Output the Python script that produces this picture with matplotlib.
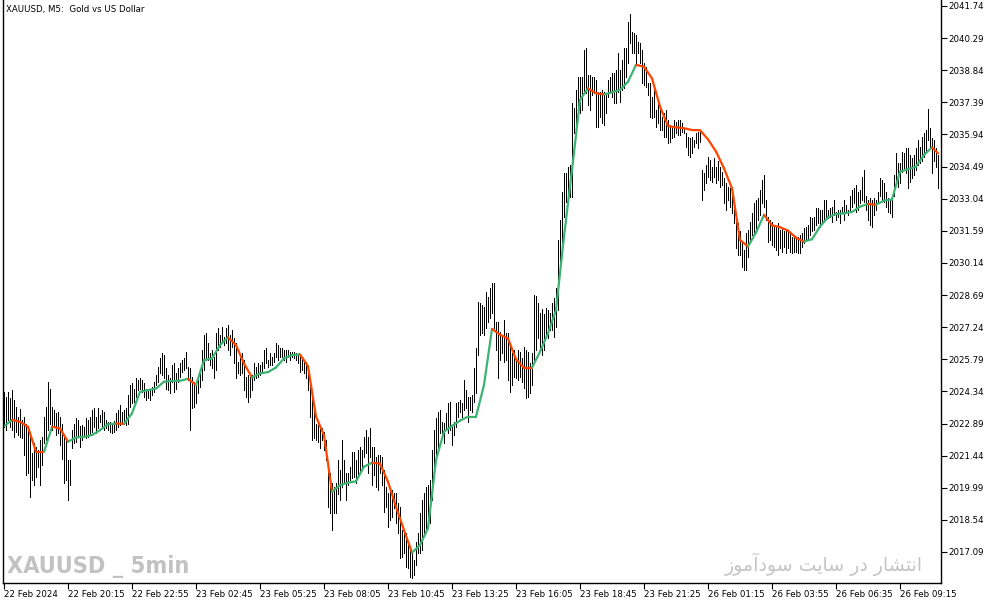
import matplotlib
matplotlib.use("Agg")
import matplotlib.pyplot as plt
import numpy as np
from matplotlib.collections import LineCollection

# XAUUSD M5 bars, 22 Feb 2024 17:35 .. 26 Feb 2024 10:50
highs = [
    2024.32, 2024.10, 2024.32, 2024.02, 2024.40, 2023.95, 2023.65, 2023.20, 2023.53, 2023.05,
    2023.20, 2022.89, 2022.74, 2022.44, 2021.54, 2021.99, 2021.84, 2021.69, 2022.14, 2022.29,
    2023.20, 2023.65, 2024.78, 2024.47, 2023.65, 2023.50, 2023.35, 2023.42, 2023.20, 2022.89,
    2022.29, 2022.22, 2021.24, 2021.24, 2022.59, 2022.89, 2023.12, 2023.05, 2022.77, 2022.82,
    2022.74, 2023.12, 2023.07, 2023.20, 2023.50, 2023.57, 2023.20, 2023.57, 2023.27, 2023.50,
    2023.42, 2023.05, 2022.97, 2022.97, 2022.89, 2023.01, 2023.35, 2023.50, 2023.72, 2023.42,
    2023.50, 2023.57, 2024.17, 2024.63, 2024.70, 2024.47, 2024.93, 2024.85, 2024.93, 2024.85,
    2024.70, 2024.47, 2024.40, 2024.47, 2024.55, 2024.78, 2025.08, 2025.45, 2025.83, 2026.06,
    2025.98, 2025.38, 2025.08, 2024.93, 2025.53, 2025.60, 2025.15, 2025.38, 2025.60, 2025.75,
    2025.83, 2026.13, 2025.45, 2025.38, 2025.00, 2024.78, 2024.70, 2024.85, 2025.15, 2026.21,
    2026.88, 2026.96, 2026.51, 2026.06, 2026.21, 2025.90, 2026.96, 2027.18, 2026.88, 2027.26,
    2026.81, 2027.18, 2027.33, 2026.88, 2027.11, 2026.73, 2026.51, 2025.68, 2025.83, 2026.06,
    2025.75, 2025.00, 2025.08, 2025.00, 2025.08, 2025.60, 2025.45, 2025.60, 2025.53, 2025.68,
    2026.21, 2026.28, 2025.75, 2026.06, 2025.90, 2026.06, 2026.51, 2026.43, 2026.28, 2026.28,
    2026.21, 2026.21, 2026.21, 2026.13, 2026.13, 2026.13, 2026.06, 2025.98, 2025.90, 2025.90,
    2025.75, 2025.68, 2025.30, 2024.93, 2024.25, 2023.65, 2022.89, 2022.82, 2022.74, 2022.67,
    2022.52, 2022.14, 2021.09, 2020.64, 2020.19, 2020.04, 2020.19, 2021.24, 2020.79, 2022.14,
    2021.24, 2020.64, 2020.64, 2020.94, 2021.61, 2021.61, 2021.24, 2021.69, 2021.84, 2021.69,
    2022.29, 2022.59, 2022.29, 2022.67, 2021.84, 2021.84, 2021.39, 2021.47, 2021.47, 2021.39,
    2020.79, 2020.04, 2019.74, 2019.89, 2019.89, 2019.74, 2019.74, 2019.28, 2019.13, 2018.08,
    2017.93, 2017.93, 2017.48, 2017.33, 2017.03, 2016.73, 2017.55, 2017.93, 2018.83, 2019.43,
    2019.74, 2020.04, 2020.11, 2020.34, 2021.69, 2022.60, 2023.12, 2023.42, 2023.50, 2022.97,
    2022.90, 2023.35, 2023.80, 2023.87, 2022.75, 2022.97, 2023.80, 2023.87, 2023.95, 2023.80,
    2024.85, 2024.40, 2024.10, 2024.10, 2024.18, 2025.38, 2026.28, 2028.39, 2028.32, 2028.24,
    2028.16, 2028.84, 2028.62, 2028.99, 2029.22, 2029.22, 2027.49, 2027.49, 2027.04, 2026.81,
    2027.56, 2026.96, 2026.96, 2026.51, 2026.06, 2026.21, 2025.83, 2026.21, 2026.13, 2025.83,
    2026.36, 2026.21, 2026.13, 2025.61, 2026.06, 2028.69, 2028.65, 2028.32, 2027.90, 2028.05,
    2027.82, 2028.09, 2028.01, 2027.86, 2028.32, 2028.54, 2028.99, 2031.18, 2032.08, 2033.36,
    2034.19, 2034.19, 2034.49, 2034.56, 2037.35, 2037.12, 2037.95, 2038.55, 2038.55, 2038.55,
    2039.75, 2039.83, 2038.63, 2038.63, 2038.55, 2038.55, 2038.40, 2037.87, 2037.87, 2037.95,
    2037.87, 2037.72, 2038.40, 2038.55, 2038.70, 2038.70, 2038.85, 2039.60, 2038.85, 2039.30,
    2039.83, 2039.83, 2041.03, 2041.38, 2040.58, 2040.51, 2040.43, 2040.13, 2040.06, 2039.75,
    2039.15, 2039.00, 2038.25, 2038.25, 2037.65, 2038.10, 2037.05, 2037.35, 2037.20, 2036.74,
    2036.89, 2037.05, 2036.59, 2036.37, 2036.22, 2036.59, 2036.52, 2036.59, 2036.59, 2036.44,
    2036.22, 2035.99, 2035.84, 2035.77, 2035.84, 2035.69, 2035.99, 2036.07, 2036.14, 2034.34,
    2034.19, 2034.57, 2034.94, 2034.79, 2034.49, 2034.87, 2034.49, 2034.72, 2034.49, 2034.26,
    2033.96, 2033.74, 2033.59, 2033.51, 2033.29, 2032.91, 2032.23, 2031.93, 2031.56, 2031.03,
    2030.73, 2031.48, 2031.63, 2032.01, 2032.38, 2032.83, 2032.99, 2033.06, 2033.44, 2033.89,
    2034.11, 2032.99, 2032.23, 2032.08, 2032.01, 2031.86, 2031.78, 2031.93, 2031.63, 2031.71,
    2031.56, 2031.63, 2031.63, 2031.48, 2031.33, 2031.40, 2031.33, 2031.33, 2031.40, 2031.48,
    2031.71, 2031.78, 2031.86, 2032.23, 2032.16, 2032.23, 2032.61, 2032.61, 2032.53, 2032.53,
    2032.99, 2032.99, 2032.53, 2032.61, 2032.68, 2032.99, 2032.46, 2032.53, 2032.53, 2032.68,
    2032.99, 2032.76, 2032.53, 2033.14, 2033.44, 2033.51, 2033.66, 2033.36, 2033.44, 2034.04,
    2034.34, 2033.14, 2032.99, 2033.06, 2032.99, 2033.06, 2032.99, 2033.36, 2033.96, 2033.89,
    2033.74, 2033.36, 2033.06, 2032.99, 2033.06, 2034.11, 2035.09, 2034.64, 2034.64, 2035.17,
    2035.09, 2035.32, 2035.32, 2035.02, 2034.87, 2035.02, 2035.32, 2035.69, 2035.39, 2035.84,
    2035.99, 2036.15, 2037.08, 2036.22, 2035.77, 2035.69, 2035.32, 2035.02,
]

lows = [
    2022.74, 2022.59, 2023.05, 2022.74, 2022.59, 2022.29, 2022.52, 2022.37, 2022.29, 2022.22,
    2021.46, 2020.56, 2020.64, 2019.58, 2020.34, 2020.11, 2020.49, 2020.94, 2020.11, 2021.01,
    2021.99, 2022.14, 2022.59, 2022.89, 2022.59, 2022.74, 2022.37, 2022.44, 2021.92, 2021.31,
    2020.19, 2020.34, 2019.43, 2020.11, 2021.77, 2021.99, 2022.07, 2022.29, 2021.81, 2022.14,
    2022.29, 2022.22, 2022.29, 2022.37, 2022.52, 2022.74, 2022.44, 2022.67, 2022.97, 2022.67,
    2022.59, 2022.67, 2022.59, 2022.52, 2022.44, 2022.52, 2022.59, 2022.74, 2022.82, 2022.89,
    2022.89, 2022.82, 2022.89, 2023.65, 2023.80, 2023.87, 2024.10, 2024.40, 2024.47, 2024.32,
    2024.10, 2023.95, 2024.02, 2023.95, 2024.17, 2024.32, 2024.63, 2024.78, 2025.15, 2025.08,
    2024.93, 2024.47, 2024.40, 2024.25, 2024.78, 2024.32, 2024.47, 2024.78, 2025.00, 2025.23,
    2025.30, 2025.38, 2024.85, 2022.59, 2023.57, 2023.65, 2023.80, 2024.25, 2024.55, 2024.85,
    2025.30, 2025.75, 2025.75, 2025.53, 2025.38, 2024.93, 2025.30, 2026.21, 2026.36, 2026.58,
    2026.43, 2026.51, 2026.21, 2025.98, 2026.36, 2025.60, 2024.93, 2025.15, 2025.08, 2025.15,
    2024.40, 2024.10, 2023.87, 2024.10, 2024.40, 2024.85, 2024.93, 2025.00, 2025.08, 2025.15,
    2025.38, 2025.60, 2025.45, 2025.53, 2025.53, 2025.68, 2025.90, 2025.75, 2025.90, 2025.90,
    2025.75, 2025.68, 2025.90, 2025.75, 2025.90, 2025.83, 2025.75, 2025.60, 2025.23, 2025.30,
    2025.15, 2024.93, 2024.40, 2023.20, 2022.14, 2022.22, 2022.14, 2022.07, 2021.77, 2022.14,
    2021.69, 2021.24, 2019.13, 2018.83, 2018.08, 2018.83, 2018.83, 2019.73, 2019.43, 2020.04,
    2020.19, 2019.43, 2020.11, 2020.34, 2020.41, 2020.49, 2020.19, 2020.49, 2020.64, 2020.79,
    2021.39, 2021.54, 2020.64, 2021.39, 2020.11, 2020.56, 2020.04, 2019.89, 2020.64, 2020.11,
    2018.91, 2019.13, 2018.23, 2018.53, 2018.68, 2019.06, 2018.38, 2017.93, 2016.80, 2016.88,
    2017.03, 2016.43, 2016.35, 2015.97, 2015.90, 2016.05, 2016.50, 2017.03, 2017.03, 2017.18,
    2017.93, 2018.08, 2018.53, 2018.38, 2019.43, 2020.64, 2021.39, 2021.54, 2022.45, 2022.45,
    2021.99, 2022.67, 2022.45, 2022.60, 2021.92, 2022.37, 2022.75, 2023.20, 2023.42, 2023.20,
    2023.50, 2023.57, 2022.97, 2023.50, 2023.42, 2023.87, 2024.25, 2025.98, 2026.89, 2026.96,
    2026.89, 2027.19, 2027.49, 2027.64, 2027.86, 2027.19, 2026.21, 2024.93, 2025.76, 2026.06,
    2025.68, 2025.76, 2024.85, 2024.33, 2024.63, 2025.00, 2024.93, 2024.85, 2025.00, 2024.78,
    2024.48, 2024.03, 2024.10, 2024.25, 2024.63, 2025.61, 2026.20, 2026.74, 2026.30, 2026.00,
    2026.20, 2026.89, 2026.74, 2027.11, 2027.11, 2026.81, 2027.26, 2028.02, 2029.82, 2031.03,
    2032.23, 2032.91, 2032.98, 2033.13, 2033.13, 2035.99, 2036.29, 2036.74, 2036.89, 2037.05,
    2037.80, 2037.80, 2037.27, 2037.05, 2037.72, 2037.80, 2036.29, 2036.29, 2036.74, 2036.44,
    2036.37, 2036.89, 2037.65, 2037.80, 2037.65, 2037.35, 2037.35, 2037.87, 2037.42, 2037.95,
    2038.02, 2038.55, 2039.15, 2040.06, 2039.60, 2039.60, 2039.15, 2039.60, 2039.15, 2038.25,
    2038.17, 2038.10, 2037.72, 2036.74, 2036.67, 2036.74, 2036.29, 2036.44, 2036.14, 2036.14,
    2035.84, 2035.84, 2035.54, 2035.62, 2035.77, 2035.84, 2035.99, 2035.92, 2035.92, 2036.07,
    2035.99, 2035.39, 2035.01, 2034.94, 2035.09, 2035.39, 2035.54, 2035.31, 2035.62, 2032.99,
    2033.44, 2033.74, 2034.04, 2033.89, 2033.81, 2034.04, 2033.74, 2033.89, 2033.59, 2033.66,
    2032.83, 2032.53, 2032.99, 2032.68, 2032.38, 2031.93, 2030.80, 2030.50, 2030.50, 2029.97,
    2029.82, 2029.82, 2030.43, 2031.18, 2031.40, 2031.48, 2031.56, 2032.08, 2032.31, 2032.83,
    2032.68, 2032.08, 2031.10, 2031.18, 2030.95, 2030.88, 2030.73, 2030.50, 2030.80, 2030.65,
    2030.88, 2030.58, 2030.80, 2030.65, 2030.58, 2030.65, 2030.65, 2030.58, 2030.58, 2030.88,
    2031.03, 2031.18, 2031.18, 2031.40, 2031.56, 2031.63, 2031.86, 2031.93, 2031.78, 2032.01,
    2032.08, 2032.16, 2032.16, 2032.23, 2032.01, 2032.31, 2032.08, 2032.23, 2031.93, 2032.38,
    2032.08, 2032.38, 2032.31, 2032.46, 2032.68, 2032.83, 2032.46, 2032.53, 2032.83, 2032.99,
    2032.91, 2032.53, 2032.08, 2031.86, 2031.78, 2032.31, 2032.53, 2032.83, 2033.14, 2032.99,
    2032.91, 2032.68, 2032.46, 2032.38, 2032.23, 2033.14, 2033.74, 2033.59, 2033.74, 2034.26,
    2034.41, 2034.19, 2033.51, 2033.81, 2033.96, 2034.11, 2034.34, 2034.57, 2034.64, 2034.72,
    2034.94, 2035.09, 2035.69, 2035.39, 2034.19, 2034.72, 2034.49, 2033.51,
]

# moving average, read every 4th bar, plus the last bar
ma_bars = list(range(0, 465, 4)) + [467]
ma_values = [
    2022.77, 2023.05, 2022.97, 2022.74, 2021.61, 2021.61, 2022.74, 2022.67, 2022.07, 2022.26,
    2022.29, 2022.37, 2022.59, 2022.86, 2022.89, 2022.88, 2023.35, 2024.32, 2024.40, 2024.47,
    2024.78, 2024.81, 2024.82, 2024.91, 2024.63, 2025.75, 2025.83, 2026.43, 2026.78, 2026.43,
    2025.60, 2024.97, 2025.15, 2025.21, 2025.42, 2025.83, 2025.98, 2026.01, 2025.48, 2023.20,
    2022.37, 2019.81, 2020.11, 2020.22, 2020.28, 2020.94, 2021.12, 2021.08, 2020.26, 2019.13,
    2018.08, 2017.06, 2017.40, 2018.16, 2021.24, 2022.52, 2022.78, 2023.02, 2023.20, 2023.20,
    2024.63, 2027.16, 2026.90, 2026.73, 2025.79, 2025.41, 2025.41, 2026.13, 2026.96, 2028.01,
    2031.33, 2034.34, 2037.50, 2038.02, 2037.80, 2037.75, 2037.84, 2037.95, 2038.32, 2039.08,
    2039.00, 2038.47, 2037.20, 2036.32, 2036.26, 2036.22, 2036.14, 2036.13, 2035.72, 2035.17,
    2034.41, 2033.51, 2031.18, 2030.88, 2031.51, 2032.31, 2031.84, 2031.75, 2031.60, 2031.28,
    2031.10, 2031.21, 2031.78, 2032.20, 2032.35, 2032.38, 2032.44, 2032.68, 2032.80, 2032.77,
    2032.95, 2033.01, 2034.26, 2034.37, 2034.49, 2035.02, 2035.36, 2035.09,
]

price_ticks = [2017.09, 2018.54, 2019.99, 2021.44, 2022.89, 2024.34, 2025.79, 2027.24,
               2028.69, 2030.14, 2031.59, 2033.04, 2034.49, 2035.94, 2037.39, 2038.84,
               2040.29, 2041.74]
time_tick_bars = list(range(0, 449, 32))
time_labels = ["22 Feb 2024", "22 Feb 20:15", "22 Feb 22:55", "23 Feb 02:45",
               "23 Feb 05:25", "23 Feb 08:05", "23 Feb 10:45", "23 Feb 13:25",
               "23 Feb 16:05", "23 Feb 18:45", "23 Feb 21:25", "26 Feb 01:15",
               "26 Feb 03:55", "26 Feb 06:35", "26 Feb 09:15"]

UP = "#3cb371"
DOWN = "#ff4500"
FS = 6.2

# "انتشار در سایت سودآموز" in joined presentation forms, visual order
persian_note = ("\ufeaf\ufeee\ufee3\ufe81\ufea9\ufeee\ufeb3 "
                "\ufe96\ufef3\ufe8e\ufeb3 "
                "\ufead\ufea9 "
                "\ufead\ufe8e\ufeb8\ufe98\ufee7\ufe8d")


def draw_bars(ax):
    x = np.arange(len(highs))
    ax.vlines(x, lows, highs, colors="black", linewidth=0.55,
              antialiased=False, snap=True)


def draw_ma(ax):
    pts = np.column_stack([ma_bars, ma_values])
    segs = np.stack([pts[:-1], pts[1:]], axis=1)
    diffs = np.diff(ma_values)
    colors = []
    last = UP
    for d in diffs:
        if d > 0:
            last = UP
        elif d < 0:
            last = DOWN
        colors.append(last)
    lc = LineCollection(segs, colors=colors, linewidths=1.6, capstyle="round")
    ax.add_collection(lc)


def decorate(ax):
    ax.set_xlim(-0.75, 468.5)
    ax.set_ylim(2015.69, 2042.01)

    ax.spines["top"].set_visible(False)
    for s in ["left", "bottom", "right"]:
        ax.spines[s].set_linewidth(1.0)
        ax.spines[s].set_color("black")

    ax.yaxis.tick_right()
    ax.set_yticks(price_ticks)
    ax.set_yticklabels(["%.2f" % v for v in price_ticks])
    ax.tick_params(axis="y", direction="out", length=4, width=0.8, pad=1,
                   labelsize=FS, colors="black")

    ax.set_xticks(time_tick_bars)
    ax.set_xticklabels(time_labels, ha="left")
    ax.tick_params(axis="x", direction="out", length=4, width=0.8, pad=1,
                   labelsize=FS, colors="black")

    ax.text(0.004, 0.992, "XAUUSD, M5:  Gold vs US Dollar", transform=ax.transAxes,
            ha="left", va="top", fontsize=FS, color="black")

    ax.text(0.005, 0.009, "XAUUSD _ 5min", transform=ax.transAxes, ha="left",
            va="bottom", fontsize=16.8, fontweight="bold", color="#c2c2c2",
            family=["Liberation Sans Narrow", "DejaVu Sans"], fontstretch="condensed")
    ax.text(0.981, 0.012, persian_note, transform=ax.transAxes, ha="right",
            va="bottom", fontsize=13.6, color="#c4c4c4", family=["DejaVu Sans"])


def main():
    fig = plt.figure(figsize=(9.94, 6.05), dpi=100)
    ax = fig.add_axes([2.5 / 994, 22 / 605, 938.5 / 994, 583 / 605])
    draw_bars(ax)
    draw_ma(ax)
    decorate(ax)
    fig.savefig("out.png", dpi=100, facecolor="white")


if __name__ == "__main__":
    main()
